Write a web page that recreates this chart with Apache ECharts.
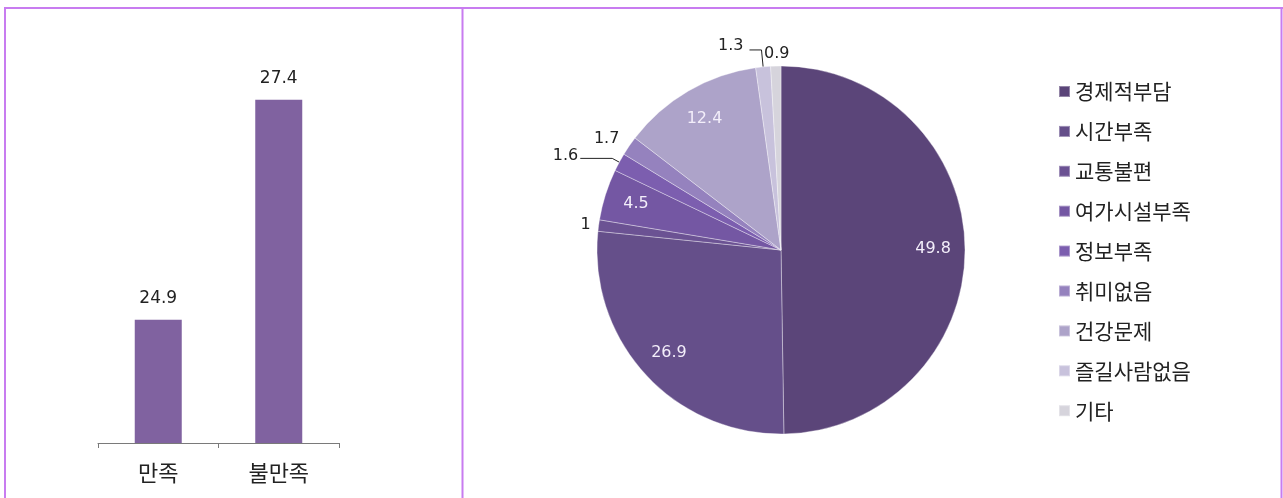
<!DOCTYPE html>
<html>
<head>
<meta charset="utf-8">
<script src="https://cdn.jsdelivr.net/npm/echarts@6/dist/echarts.min.js"></script>
<style>
  html, body { margin: 0; padding: 0; background: #ffffff; }
  #chart { width: 1283px; height: 498px; }
</style>
</head>
<body>
<div id="chart"></div>
<script>
// Satisfaction (bar panel)
const barCategories = ['만족', '불만족'];
const barValues = [24.9, 27.4];

// Reasons (pie panel), clockwise from 12 o'clock
const pieCategories = ['경제적부담', '시간부족', '교통불편', '여가시설부족', '정보부족', '취미없음', '건강문제', '즐길사람없음', '기타'];
const pieValues = [49.8, 26.9, 1, 4.5, 1.6, 1.7, 12.4, 1.3, 0.9];

const pieColors = ['#5b4579', '#654f8a', '#6b5293', '#7457a3', '#7c5eaf', '#9582be', '#ada3c9', '#c8c2dc', '#d6d4dc'];
const numFont = 'DejaVu Sans, Noto Sans CJK KR, sans-serif';
const krFont = 'Noto Sans CJK KR, sans-serif';

// Which slices carry their value inside the pie, and how outside labels sit
const insideLabel = { '경제적부담': true, '시간부족': true, '여가시설부족': true, '건강문제': true };
const outsideStyle = {
  '교통불편':   { line: false, length: 4,  length2: 0,  dist: 4 },
  '정보부족':   { line: true,  length: 8,  length2: 32, dist: 2 },
  '취미없음':   { line: false, length: 12, length2: 0,  dist: 0 },
  '즐길사람없음': { line: true, length: 17, length2: 12, dist: 6 },
  '기타':       { line: false, length: 14, length2: 0,  dist: 0 }
};

const PIE_R = 184;
const PIE_C = [781, 250];

const mainPieData = pieCategories.map((name, i) => {
  const o = outsideStyle[name];
  return {
    name: name,
    value: pieValues[i],
    itemStyle: { color: pieColors[i] },
    label: o ? { show: true, position: 'outside', distanceToLabelLine: o.dist } : { show: false },
    labelLine: o ? { show: o.line, length: o.length, length2: o.length2 } : { show: false }
  };
});

const ringLabelData = pieCategories.map((name, i) => ({
  name: name,
  value: pieValues[i],
  label: { show: !!insideLabel[name] }
}));

const chart = echarts.init(document.getElementById('chart'), null, { renderer: 'canvas' });

chart.setOption({
  animation: false,
  backgroundColor: '#ffffff',
  graphic: [
    { type: 'line', shape: { x1: 4, y1: 8, x2: 1283, y2: 8 }, style: { stroke: '#c87cf0', lineWidth: 2 } },
    { type: 'line', shape: { x1: 5, y1: 8, x2: 5, y2: 498 }, style: { stroke: '#c87cf0', lineWidth: 2 } },
    { type: 'line', shape: { x1: 462.5, y1: 8, x2: 462.5, y2: 498 }, style: { stroke: '#c87cf0', lineWidth: 2 } },
    { type: 'line', shape: { x1: 1281.5, y1: 8, x2: 1281.5, y2: 498 }, style: { stroke: '#c87cf0', lineWidth: 2 } }
  ],
  grid: { left: 98, width: 241, top: 47, height: 396 },
  xAxis: {
    type: 'category',
    data: barCategories,
    axisLine: { lineStyle: { color: '#7a7a7a', width: 1 } },
    axisTick: { show: true, length: 5, lineStyle: { color: '#7a7a7a' } },
    axisLabel: { color: '#222', fontFamily: krFont, fontSize: 22, margin: 19 }
  },
  yAxis: { type: 'value', min: 23.5, max: 28, show: false },
  legend: {
    data: pieCategories,
    orient: 'vertical',
    left: 1058,
    top: 81,
    padding: 0,
    icon: 'rect',
    itemWidth: 11,
    itemHeight: 11,
    itemGap: 18.9,
    textStyle: { color: '#222', fontFamily: krFont, fontSize: 21, lineHeight: 20 }
  },
  series: [
    {
      type: 'bar',
      data: barValues,
      barWidth: 47,
      itemStyle: { color: '#8062a0' },
      label: { show: true, position: 'top', distance: 13, color: '#222', fontFamily: numFont, fontSize: 17 }
    },
    {
      type: 'pie',
      center: PIE_C,
      radius: [0, PIE_R],
      startAngle: 90,
      clockwise: true,
      avoidLabelOverlap: false,
      itemStyle: { borderColor: 'rgba(255,255,255,0.35)', borderWidth: 1 },
      label: { color: '#222', fontFamily: numFont, fontSize: 16, formatter: '{c}' },
      labelLine: { lineStyle: { color: '#222', width: 1 }, smooth: false },
      labelLayout: function (p) {
        if (pieCategories[p.dataIndex] === '기타') return { dx: 14, dy: 2 };
        if (pieCategories[p.dataIndex] === '즐길사람없음') return { dy: -4 };
        if (pieCategories[p.dataIndex] === '정보부족') return { dy: -3 };
        return {};
      },
      emphasis: { disabled: true },
      data: mainPieData
    },
    {
      // transparent ring that carries the in-slice value labels
      type: 'pie',
      center: PIE_C,
      radius: [PIE_R * 0.62, PIE_R],
      startAngle: 90,
      clockwise: true,
      silent: true,
      avoidLabelOverlap: false,
      itemStyle: { color: 'rgba(0,0,0,0)', borderWidth: 0 },
      label: { position: 'inside', color: '#f3eefa', fontFamily: numFont, fontSize: 16, formatter: '{c}' },
      labelLine: { show: false },
      emphasis: { disabled: true },
      data: ringLabelData
    }
  ]
});
</script>
</body>
</html>
